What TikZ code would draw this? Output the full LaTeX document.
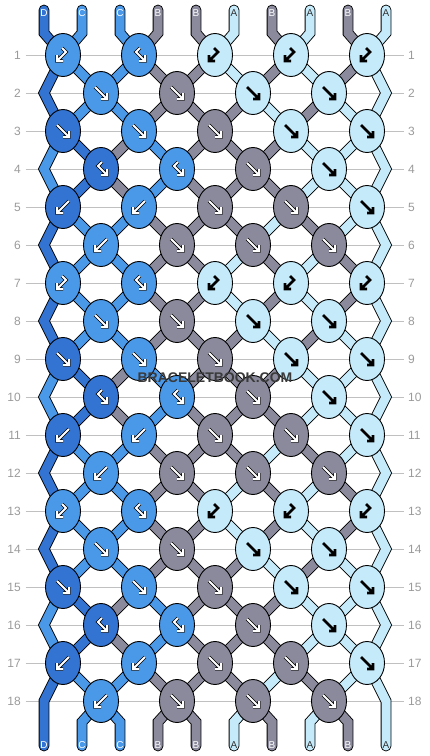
\documentclass[tikz,border=0pt]{standalone}
\usepackage{fontspec}
\setsansfont{Liberation Sans}
\usetikzlibrary{shapes.geometric}

\definecolor{strD}{HTML}{3373D2}
\definecolor{strC}{HTML}{4A99E9}
\definecolor{strB}{HTML}{8A8A9C}
\definecolor{strA}{HTML}{C5EBFB}
\definecolor{rowgrey}{HTML}{C0C0C0}
\definecolor{numgrey}{HTML}{9A9A9A}
\definecolor{markgrey}{HTML}{3A3A3A}

\pgfdeclarelayer{back}
\pgfdeclarelayer{strands}
\pgfsetlayers{back,strands,main}

% knots of one repeat (6 rows): colour/type
\def\knotsI{C/bf,C/fb,A/bf,A/bf,A/bf}
\def\knotsII{C/fw,B/fw,A/fw,A/fw}
\def\knotsIII{D/fw,C/fw,B/fw,A/fw,A/fw}
\def\knotsIV{D/fb,C/fb,B/fw,A/fw}
\def\knotsV{D/bw,C/bw,B/fw,B/fw,A/fw}
\def\knotsVI{C/bw,B/fw,B/fw,B/fw}

% threads in the ten slots below a row of the repeat
\def\threadsO{D,C,C,B,B,A,B,A,B,A}
\def\threadsI{D,C,C,B,B,A,B,A,B,A}
\def\threadsII{D,C,C,B,B,B,A,B,A,A}
\def\threadsIII{C,D,B,C,B,B,B,A,A,A}
\def\threadsIV{C,D,B,C,B,B,B,A,A,A}
\def\threadsV{D,C,C,B,B,B,A,B,A,A}

\newcommand\pickknots[1]{%
  \pgfmathtruncatemacro\reprow{mod(#1-1,6)}%
  \ifcase\reprow\relax \let\knotlist\knotsI
  \or \let\knotlist\knotsII
  \or \let\knotlist\knotsIII
  \or \let\knotlist\knotsIV
  \or \let\knotlist\knotsV
  \else \let\knotlist\knotsVI
  \fi}
\newcommand\pickthreads[1]{%
  \pgfmathtruncatemacro\reprow{mod(#1,6)}%
  \ifcase\reprow\relax \let\threadlist\threadsO
  \or \let\threadlist\threadsI
  \or \let\threadlist\threadsII
  \or \let\threadlist\threadsIII
  \or \let\threadlist\threadsIV
  \else \let\threadlist\threadsV
  \fi}

\begin{document}
\begin{tikzpicture}[x=1pt,y=-1pt,
    knot/.style={ellipse, draw=black, line width=0.9pt, fill=str#1,
      minimum width=35pt, minimum height=43pt, inner sep=0pt},
    thread/.style={draw=black, line width=0.9pt, double=str#1,
      double distance=9pt, line join=miter},
    rownum/.style={text=numgrey, font=\sffamily\fontsize{12}{14}\selectfont,
      inner xsep=4.5pt, inner ysep=0pt},
    rowline/.style={draw=rowgrey, line width=1pt},
    letter/.style={font=\sffamily\fontsize{10}{12}\selectfont, inner sep=0pt},
    lblD/.style={text=white}, lblC/.style={text=white},
    lblB/.style={text=white}, lblA/.style={text=black!80},
    icoD/.style={draw=black, line width=0.7pt, double=white,
      double distance=2pt, line join=miter},
    icoC/.style={icoD}, icoB/.style={icoD},
    icoA/.style={draw=black, line width=2.6pt, line join=miter},
    pics/fw/.style={code={\draw[#1] (-6,-6) -- (6,6) (0,6) -- (6,6) -- (6,0);}},
    pics/bw/.style={code={\draw[#1] (6,-6) -- (-6,6) (0,6) -- (-6,6) -- (-6,0);}},
    pics/fb/.style={code={\draw[#1] (1,-7) -- (-3,-3) -- (6,6) (0,6) -- (6,6) -- (6,0);}},
    pics/bf/.style={code={\draw[#1] (-1,-7) -- (3,-3) -- (-6,6) (0,6) -- (-6,6) -- (-6,0);}}]
  \useasboundingbox (0,0) rectangle (430,756);

  % row numbers and guide lines
  \foreach \r in {1,...,18} {
    \pgfmathsetmacro\y{55+38*(\r-1)}
    \node[rownum, anchor=east] (numl-\r) at (25.5,\y) {\r};
    \node[rownum, anchor=west] (numr-\r) at (403.5,\y) {\r};
    \begin{pgfonlayer}{back}
      \draw[rowline] (numl-\r.east) -- (numr-\r.west);
    \end{pgfonlayer}
  }

  % knots
  \foreach \r in {1,...,18} {
    \pgfmathsetmacro\y{55+38*(\r-1)}
    \pickknots{\r}
    \foreach \col/\typ [count=\i] in \knotlist {
      \ifodd\r
        \pgfmathsetmacro\x{-13+76*\i}
        \pgfmathtruncatemacro\pa{2*\i-1}
      \else
        \pgfmathsetmacro\x{25+76*\i}
        \pgfmathtruncatemacro\pa{2*\i}
      \fi
      \pgfmathtruncatemacro\pb{\pa+1}
      \node[knot=\col] (k-\r-\i) at (\x,\y) {};
      \coordinate (s-\r-\pa) at (k-\r-\i.center);
      \coordinate (s-\r-\pb) at (k-\r-\i.center);
      \edef\icon{\noexpand\pic at (k-\r-\i) {\typ=ico\col};}
      \icon
    }
    \ifodd\r\else
      \coordinate (s-\r-1) at (44,\y);
      \coordinate (s-\r-10) at (386,\y);
    \fi
  }

  % ends of the threads
  \foreach \p in {1,...,10} {
    \pgfmathsetmacro\x{6+38*\p}
    \coordinate (top-\p) at (\x,10);
    \coordinate (bend-\p) at (\x,33);
    \coordinate (foot-\p) at (\x,722);
    \coordinate (s-19-\p) at (\x,746);
  }

  \begin{pgfonlayer}{strands}
    \pickthreads{0}
    \foreach \thr [count=\p] in \threadlist
      \draw[thread=\thr, line cap=round] (top-\p) -- (bend-\p) -- (s-1-\p);
    \foreach \r in {1,...,17} {
      \pickthreads{\r}
      \pgfmathtruncatemacro\rn{\r+1}
      \pgfmathtruncatemacro\rnn{\r+2}
      \foreach \thr [count=\p] in \threadlist {
        \ifnum\p>1 \ifnum\p<10
          \draw[thread=\thr] (s-\r-\p) -- (s-\rn-\p);
        \fi\fi
        \ifodd\r
          \ifnum\p=1
            \draw[thread=\thr, line cap=round] (s-\r-\p) -- (s-\rn-\p) -- (s-\rnn-\p);
          \fi
          \ifnum\p=10
            \draw[thread=\thr, line cap=round] (s-\r-\p) -- (s-\rn-\p) -- (s-\rnn-\p);
          \fi
        \fi
      }
    }
    \pickthreads{18}
    \foreach \thr [count=\p] in \threadlist {
      \ifnum\p>1 \ifnum\p<10
        \draw[thread=\thr, line cap=round] (s-18-\p) -- (foot-\p) -- (s-19-\p);
      \fi\fi
    }
  \end{pgfonlayer}

  % letters on the thread ends
  \pickthreads{0}
  \foreach \thr [count=\p] in \threadlist {
    \pgfmathsetmacro\x{6+38*\p}
    \node[letter, lbl\thr] (ltop-\p) at (\x,13) {\thr};
    \node[letter, lbl\thr] (lbot-\p) at (\x,745) {\thr};
  }

  \node[font=\sffamily\bfseries\fontsize{14}{16}\selectfont, text=markgrey,
    inner sep=0pt] (mark) at (215,377.5) {BRACELETBOOK.COM};
\end{tikzpicture}
\end{document}
